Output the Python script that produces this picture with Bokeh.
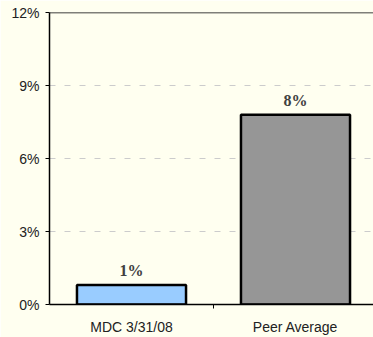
from bokeh.plotting import figure
from bokeh.models import ColumnDataSource, FixedTicker, PrintfTickFormatter, Span
from bokeh.core.properties import value
from bokeh.embed import file_html
from bokeh.resources import INLINE

categories = ["MDC 3/31/08", "Peer Average"]
values = [0.8, 7.8]
bar_labels = [f"{round(v)}%" for v in values]
y_ticks = [0, 3, 6, 9, 12]

fill_colors = ["#99CCFF", "#969696"]
positions = [i + 0.5 for i in range(len(categories))]

src = ColumnDataSource(dict(x=positions, top=values, label=bar_labels, color=fill_colors))

p = figure(width=373, height=337, output_backend="svg", toolbar_location=None,
           x_range=(0, 324 / 164), y_range=(0, 12),
           min_border_left=49, min_border_right=0, min_border_top=12, min_border_bottom=30)
p.background_fill_color = "#FFFFF0"
p.border_fill_color = "#FFFFF0"
p.outline_line_color = None

p.vbar(x="x", top="top", width=0.665, bottom=0, source=src, fill_color="color",
       line_color="black", line_width=2.5)
p.text(x="x", y="top", text="label", source=src, text_align="center",
       text_baseline="bottom", y_offset=-6, text_font=value("Liberation Serif"),
       text_font_style="bold", text_font_size="16px", text_color="#404040")

p.add_layout(Span(location=12, dimension="width", line_color="black", line_width=1.5))

# y axis
p.yaxis.ticker = FixedTicker(ticks=y_ticks)
p.yaxis.formatter = PrintfTickFormatter(format="%d%%")
p.yaxis.axis_line_color = "black"
p.yaxis.axis_line_width = 1.5
p.yaxis.major_tick_out = 4
p.yaxis.major_tick_in = 0
p.yaxis.minor_tick_line_color = None
p.yaxis.major_label_standoff = 6
p.yaxis.major_label_text_font = "Liberation Sans"
p.yaxis.major_label_text_font_size = "14px"
p.yaxis.major_label_text_color = "#222222"

# x axis
p.xaxis.ticker = FixedTicker(ticks=positions, minor_ticks=[1])
p.xaxis.major_label_overrides = {pos: c for pos, c in zip(positions, categories)}
p.xaxis.axis_line_color = "black"
p.xaxis.axis_line_width = 1.5
p.xaxis.major_tick_line_color = None
p.xaxis.major_tick_out = 0
p.xaxis.major_tick_in = 0
p.xaxis.minor_tick_out = 4
p.xaxis.minor_tick_in = 0
p.xaxis.minor_tick_line_color = "black"
p.xaxis.major_label_standoff = 10
p.xaxis.major_label_text_font = "Liberation Sans"
p.xaxis.major_label_text_font_size = "14px"
p.xaxis.major_label_text_color = "#222222"

p.xgrid.grid_line_color = None
p.ygrid.grid_line_color = "#CCCCCC"
p.ygrid.grid_line_dash = "6 9"
p.ygrid.grid_line_width = 1

open("out.html", "w").write(file_html(p, INLINE))
